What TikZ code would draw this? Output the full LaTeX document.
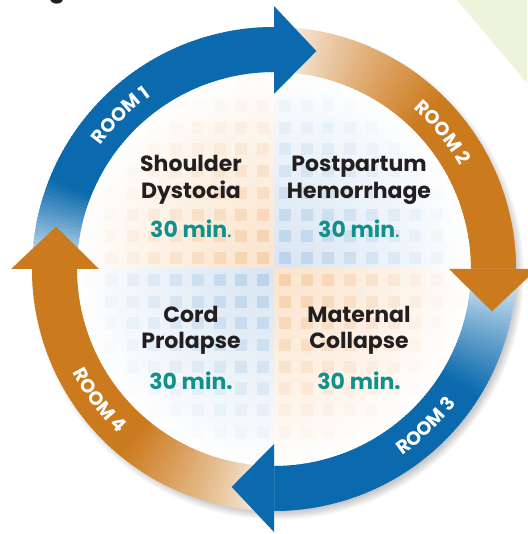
\documentclass[tikz,border=0pt]{standalone}
\usepackage{fontspec}
\newfontfamily\pop{Poppins}
\usetikzlibrary{decorations.text}
\definecolor{rblue}{HTML}{0B6AAE}
\definecolor{rorange}{HTML}{CC7A1E}
\definecolor{teal2}{HTML}{11918C}
\definecolor{ink}{HTML}{231F20}
\definecolor{peach}{HTML}{FBE4CC}
\definecolor{peachsq}{HTML}{F6D1AB}
\definecolor{lblue}{HTML}{D9E6F3}
\definecolor{lbluesq}{HTML}{BAD3EA}
\definecolor{lgreen}{HTML}{EEF3DC}
\tikzset{
  title/.style={font=\pop\bfseries\fontsize{22}{26}\selectfont, text=ink, anchor=base, inner sep=0pt},
  mins/.style={font=\pop\bfseries\fontsize{22}{26}\selectfont, text=teal2, anchor=base, inner sep=0pt},
  roomlabel/.style={decorate, decoration={text along path, text align=center,
     text={|\pop\bfseries\fontsize{19}{19}\selectfont\color{white}|#1}}}
}
\newcommand\quadbg[4]{% x-sign, y-sign, bg colour, square colour
  \begin{scope}
    \clip (0,0) rectangle (#1*200,#2*200);
    \foreach \r in {197,194,...,2}{
      \pgfmathsetmacro\p{100*(1-(\r/197)^1.3)}
      \fill[#3!\p!white] (0,0) circle (\r);
    }
    \foreach \i in {0,...,8}{
      \foreach \j in {0,...,8}{
        \pgfmathsetmacro\cx{5+21.7*\i+6}
        \pgfmathsetmacro\cy{5+21.7*\j+6}
        \pgfmathsetmacro\d{veclen(\cx,\cy)}
        \pgfmathsetmacro\q{max(0,100*(1-(\d/195)^1.4))}
        \fill[#4!\q!white] ({#1*(\cx-6)},{#2*(\cy-6)}) rectangle ++({#1*12},{#2*12});
      }
    }
  \end{scope}
}
\newcommand\arrowbody[3]{% tail angle, colour, fade degrees
  \foreach \k in {0,...,89}{
    \pgfmathsetmacro\aa{#1-\k}
    \pgfmathsetmacro\bb{\aa-1.4}
    \pgfmathsetmacro\p{min(100,100*((\k+0.5)/#3)^0.8)}
    \fill[#2!\p!white] (\aa:197) arc[start angle=\aa,end angle=\bb,radius=197]
      -- (\bb:242) arc[start angle=\bb,end angle=\aa,radius=242] -- cycle;
  }
}
\newcommand\arrowhead[2]{% base angle, colour
  \pgfmathsetmacro\tp{#1-11}
  \fill[#2] (#1:175) -- (\tp:222) -- (#1:263) -- cycle;
}
\begin{document}
\begin{tikzpicture}[x=1pt,y=1pt]
\useasboundingbox (-274,-265) rectangle (253,269);
\fill[white] (-274,-265) rectangle (253,269);
\fill[lgreen] (183,269) -- (253,269) -- (253,186) -- cycle;
\node[font=\pop\bfseries\fontsize{24}{28}\selectfont, anchor=base, text=ink] (heading) at (-217,271) {g};

% soft shadow of the ring
\foreach \i in {1,...,10} \fill[black, opacity=0.022] (4,-5) circle ({236+\i});

% inner disc
\fill[white] (0,0) circle (200);
\begin{scope}
  \clip (0,0) circle (197);
  \quadbg{-1}{1}{peach}{peachsq}
  \quadbg{1}{1}{lblue}{lbluesq}
  \quadbg{-1}{-1}{lblue}{lbluesq}
  \quadbg{1}{-1}{peach}{peachsq}
\end{scope}

% arrow bodies
\arrowbody{180}{rblue}{22}
\arrowbody{90}{rorange}{45}
\arrowbody{0}{rblue}{32}
\arrowbody{270}{rorange}{40}
% arrow heads
\arrowhead{90}{rblue}
\arrowhead{0}{rorange}
\arrowhead{270}{rblue}
\arrowhead{180}{rorange}

% room labels
\path[roomlabel={ROOM 1}] (165:212.5) arc[start angle=165, end angle=105, radius=212.5];
\path[roomlabel={ROOM 2}] (69:212.5) arc[start angle=69, end angle=9, radius=212.5];
\path[roomlabel={ROOM 3}] (-76:226.5) arc[start angle=-76, end angle=-16, radius=226.5];
\path[roomlabel={ROOM 4}] (187:226.5) arc[start angle=187, end angle=247, radius=226.5];

% texts
\node[title] (sd1) at (-83,97.3) {Shoulder};
\node[title] (sd2) at (-83,70.7) {Dystocia};
\node[mins] (sdt) at (-83,31.3) {30 min{\mdseries.}};
\node[title] (ph1) at (85,97.3) {Postpartum};
\node[title] (ph2) at (85,70.7) {Hemorrhage};
\node[mins] (pht) at (85,31.3) {30 min{\mdseries.}};
\node[title] (cp1) at (-83,-53.7) {Cord};
\node[title] (cp2) at (-83,-80) {Prolapse};
\node[mins] (cpt) at (-83,-121) {30 min.};
\node[title] (mc1) at (85,-53.7) {Maternal};
\node[title] (mc2) at (85,-80) {Collapse};
\node[mins] (mct) at (85,-121) {30 min.};
\end{tikzpicture}
\end{document}
